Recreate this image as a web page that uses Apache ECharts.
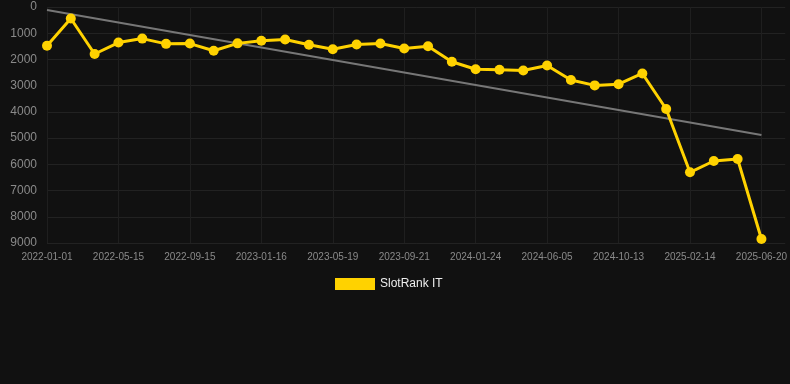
<!DOCTYPE html>
<html>
<head>
<meta charset="utf-8">
<style>
  html, body { margin: 0; padding: 0; background: #111111; }
  #chart { width: 790px; height: 384px; }
</style>
<script src="https://cdn.jsdelivr.net/npm/echarts@6/dist/echarts.min.js"></script>
</head>
<body>
<div id="chart"></div>
<script>
const categories = [
  '2022-01-01','2022-02-14','2022-03-30','2022-05-15','2022-06-25','2022-08-05',
  '2022-09-15','2022-10-27','2022-12-06','2023-01-16','2023-02-26','2023-04-08',
  '2023-05-19','2023-06-30','2023-08-10','2023-09-21','2023-11-02','2023-12-13',
  '2024-01-24','2024-03-08','2024-04-22','2024-06-05','2024-07-17','2024-08-30',
  '2024-10-13','2024-11-23','2025-01-03','2025-02-14','2025-03-31','2025-05-06',
  '2025-06-20'
];
const rankValues = [
  1476, 440, 1793, 1355, 1205, 1405,
  1395, 1670, 1387, 1290, 1240, 1440,
  1610, 1430, 1395, 1580, 1500, 2090,
  2375, 2395, 2425, 2230, 2784, 2990,
  2945, 2535, 3890, 6305, 5873, 5797,
  8848
];
const trendStart = 114;
const trendEnd = 4880;
const yTicks = { min: 0, max: 9000, interval: 1000 };

const trendData = categories.map((c, i) =>
  i === 0 ? trendStart : (i === categories.length - 1 ? trendEnd : null));

const chart = echarts.init(document.getElementById('chart'), null, { renderer: 'canvas' });
chart.setOption({
  backgroundColor: '#111111',
  animation: false,
  grid: { left: 47, right: 0, top: 7, bottom: 141, containLabel: false },
  legend: {
    data: ['SlotRank IT'],
    bottom: 89,
    left: 330,
    itemWidth: 40,
    itemHeight: 12,
    itemGap: 10,
    icon: 'rect',
    textStyle: { color: '#eeeeee', fontSize: 12, fontFamily: 'Liberation Sans, Arial, sans-serif' }
  },
  xAxis: {
    type: 'category',
    data: categories,
    boundaryGap: false,
    max: 31.17,
    axisLine: { show: false },
    axisTick: { show: false },
    axisLabel: {
      interval: 2,
      color: '#8a8a8a',
      fontSize: 10,
      margin: 9,
      fontFamily: 'Liberation Sans, Arial, sans-serif'
    },
    splitLine: { show: true, interval: 2, lineStyle: { color: '#1f1f1f', width: 1 } }
  },
  yAxis: {
    type: 'value',
    inverse: true,
    min: yTicks.min,
    max: yTicks.max,
    interval: yTicks.interval,
    axisLine: { show: false },
    axisTick: { show: false },
    axisLabel: {
      color: '#8a8a8a',
      fontSize: 12,
      margin: 10,
      formatter: v => String(v),
      fontFamily: 'Liberation Sans, Arial, sans-serif'
    },
    splitLine: { show: true, lineStyle: { color: '#222222', width: 1 } }
  },
  series: [
    {
      name: 'Trend',
      type: 'line',
      data: trendData,
      connectNulls: true,
      symbol: 'none',
      lineStyle: { color: '#777777', width: 2 },
      z: 1,
      silent: true
    },
    {
      name: 'SlotRank IT',
      type: 'line',
      data: rankValues,
      symbol: 'circle',
      symbolSize: 10,
      itemStyle: { color: '#FFD200' },
      lineStyle: { color: '#FFD200', width: 3 },
      z: 2
    }
  ]
});
</script>
</body>
</html>
